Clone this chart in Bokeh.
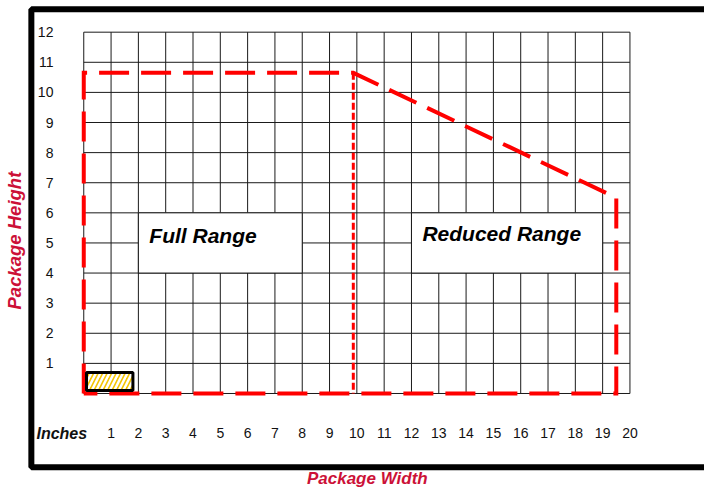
import math
from bokeh.plotting import figure
from bokeh.models import Range1d
from bokeh.core.properties import value
from bokeh.embed import file_html
from bokeh.resources import INLINE

# ---- data ----
x_ticks = list(range(1, 21))          # inches, package width
y_ticks = list(range(1, 13))          # inches, package height
grid_x = list(range(0, 21))
grid_y = list(range(0, 13))

# envelope of the accepted package sizes
envelope_x = [0, 0, 9.87, 19.5, 19.5, 0]
envelope_y = [0, 10.65, 10.65, 6.5, 0, 0]
divider_x = [9.87, 9.87]
divider_y = [10.65, 0]

# zones
zone_names = ["Full Range", "Reduced Range"]
zone_left = [2, 12]
zone_right = [8, 19]
zone_bottom = [4, 4]
zone_top = [6, 6]
zone_label_x = [2.4, 12.4]
zone_label_y = [5.25, 5.30]

# small sample package
sample_left, sample_right = [0.1], [1.8]
sample_bottom, sample_top = [0.1], [0.7]

RED_LINE = "#ff0000"
RED_TEXT = "#cc1137"
GRID = "#1a1a1a"

p = figure(width=704, height=492, output_backend="svg", toolbar_location=None,
           x_axis_type=None, y_axis_type=None,
           x_range=Range1d(-3.049, 22.730), y_range=Range1d(-3.288, 13.052),
           min_border=0, outline_line_color=None)
p.background_fill_color = "white"
p.border_fill_color = "white"

# outer black frame
p.quad(left=[-1.919], right=[24], bottom=[-2.45], top=[12.758],
       fill_color=None, line_color="black", line_width=6)

# grid
p.segment(x0=grid_x, y0=[0] * len(grid_x), x1=grid_x, y1=[12] * len(grid_x),
          line_color=GRID, line_width=1)
p.segment(x0=[0] * len(grid_y), y0=grid_y, x1=[20] * len(grid_y), y1=grid_y,
          line_color=GRID, line_width=1)

# white label boxes
p.quad(left=zone_left, right=zone_right, bottom=zone_bottom, top=zone_top,
       fill_color="white", line_color=GRID, line_width=1)
p.text(x=zone_label_x, y=zone_label_y, text=zone_names,
       text_font=value("Liberation Sans"), text_font_style="bold italic",
       text_font_size="21px", text_color="black",
       text_align="left", text_baseline="middle")

# envelope
p.line(envelope_x, envelope_y, line_color=RED_LINE, line_width=4,
       line_dash="30 12", line_join="miter")
p.line(divider_x, divider_y, line_color=RED_LINE, line_width=3,
       line_dash="7 3")

# sample package
p.quad(left=sample_left, right=sample_right, bottom=sample_bottom, top=sample_top,
       fill_color="#f5c400", hatch_pattern="/", hatch_color="white",
       hatch_scale=9, hatch_weight=2.5, line_color="black", line_width=3)

# tick labels
p.text(x=[-1.111] * len(y_ticks), y=y_ticks, text=[str(v) for v in y_ticks],
       text_font=value("Liberation Sans"), text_font_size="14px",
       text_color="#111111", text_align="right", text_baseline="middle")
p.text(x=x_ticks, y=[-1.327] * len(x_ticks), text=[str(v) for v in x_ticks],
       text_font=value("Liberation Sans"), text_font_size="14px",
       text_color="#111111", text_align="center", text_baseline="middle")
p.text(x=[-0.804], y=[-1.327], text=["Inches"],
       text_font=value("Liberation Sans"), text_font_style="bold italic",
       text_font_size="16px", text_color="#111111",
       text_align="center", text_baseline="middle")

# axis titles
p.text(x=[-2.552], y=[5.078], text=["Package Height"], angle=math.pi / 2,
       text_font=value("Liberation Sans"), text_font_style="bold italic",
       text_font_size="18.5px", text_color=RED_TEXT,
       text_align="center", text_baseline="middle")
p.text(x=[10.384], y=[-2.83], text=["Package Width"],
       text_font=value("Liberation Sans"), text_font_style="bold italic",
       text_font_size="17px", text_color=RED_TEXT,
       text_align="center", text_baseline="middle")

open("out.html", "w").write(file_html(p, INLINE))
